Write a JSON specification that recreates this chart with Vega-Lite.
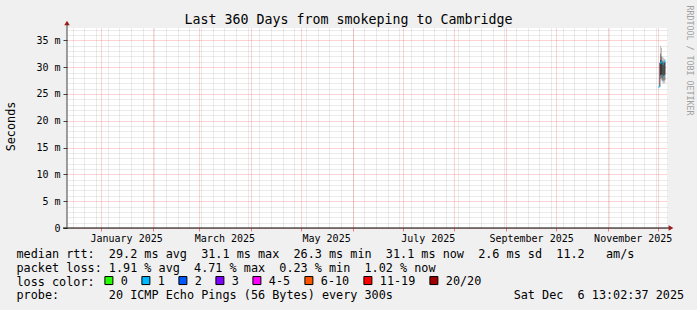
{
  "$schema": "https://vega.github.io/schema/vega-lite/v6.json",
  "width": 600,
  "height": 200,
  "autosize": {"type": "none"},
  "padding": {"left": 67, "top": 28, "right": 30, "bottom": 82},
  "background": "#f0f0f0",
  "title": {
    "text": "Last 360 Days from smokeping to Cambridge",
    "font": "DejaVu Sans Mono",
    "fontSize": 13.3,
    "fontWeight": "normal",
    "color": "black",
    "anchor": "middle",
    "frame": "group",
    "dx": -18.5,
    "dy": 36,
    "baseline": "alphabetic",
    "offset": 4
  },
  "datasets": {
    "smoke": [
      {"t": "2025-12-02T00:00:00", "t2": "2025-12-02T12:00:00", "lo": 26.4, "hi": 30.8, "band": "inner"},
      {"t": "2025-12-02T12:00:00", "t2": "2025-12-03T00:00:00", "lo": 27.3, "hi": 34.0, "band": "outer"},
      {"t": "2025-12-02T12:00:00", "t2": "2025-12-03T00:00:00", "lo": 27.8, "hi": 32.5, "band": "mid"},
      {"t": "2025-12-02T12:00:00", "t2": "2025-12-03T00:00:00", "lo": 28.5, "hi": 31.3, "band": "inner"},
      {"t": "2025-12-03T00:00:00", "t2": "2025-12-03T12:00:00", "lo": 27.5, "hi": 33.6, "band": "outer"},
      {"t": "2025-12-03T00:00:00", "t2": "2025-12-03T12:00:00", "lo": 28.0, "hi": 32.0, "band": "mid"},
      {"t": "2025-12-03T00:00:00", "t2": "2025-12-03T12:00:00", "lo": 28.6, "hi": 31.2, "band": "inner"},
      {"t": "2025-12-03T12:00:00", "t2": "2025-12-04T00:00:00", "lo": 27.2, "hi": 32.0, "band": "outer"},
      {"t": "2025-12-03T12:00:00", "t2": "2025-12-04T00:00:00", "lo": 27.6, "hi": 31.2, "band": "mid"},
      {"t": "2025-12-03T12:00:00", "t2": "2025-12-04T00:00:00", "lo": 28.0, "hi": 30.8, "band": "inner"},
      {"t": "2025-12-04T00:00:00", "t2": "2025-12-04T12:00:00", "lo": 27.0, "hi": 31.8, "band": "outer"},
      {"t": "2025-12-04T00:00:00", "t2": "2025-12-04T12:00:00", "lo": 27.5, "hi": 31.0, "band": "mid"},
      {"t": "2025-12-04T00:00:00", "t2": "2025-12-04T12:00:00", "lo": 28.3, "hi": 30.8, "band": "inner"},
      {"t": "2025-12-04T12:00:00", "t2": "2025-12-05T00:00:00", "lo": 26.9, "hi": 31.6, "band": "outer"},
      {"t": "2025-12-04T12:00:00", "t2": "2025-12-05T00:00:00", "lo": 27.4, "hi": 31.0, "band": "mid"},
      {"t": "2025-12-04T12:00:00", "t2": "2025-12-05T00:00:00", "lo": 28.4, "hi": 30.8, "band": "inner"},
      {"t": "2025-12-05T00:00:00", "t2": "2025-12-05T12:00:00", "lo": 27.1, "hi": 31.5, "band": "outer"},
      {"t": "2025-12-05T00:00:00", "t2": "2025-12-05T12:00:00", "lo": 27.6, "hi": 31.0, "band": "mid"},
      {"t": "2025-12-05T00:00:00", "t2": "2025-12-05T12:00:00", "lo": 28.6, "hi": 30.9, "band": "inner"}
    ],
    "median": [
      {"t": "2025-12-01T12:00:00", "t2": "2025-12-02T00:00:00", "rtt": 26.3, "loss": "1"},
      {"t": "2025-12-02T00:00:00", "t2": "2025-12-02T12:00:00", "rtt": 26.5, "loss": "1"},
      {"t": "2025-12-02T12:00:00", "t2": "2025-12-03T00:00:00", "rtt": 30.8, "loss": "1"},
      {"t": "2025-12-03T00:00:00", "t2": "2025-12-03T12:00:00", "rtt": 30.9, "loss": "1"},
      {"t": "2025-12-03T12:00:00", "t2": "2025-12-04T00:00:00", "rtt": 28.4, "loss": "1"},
      {"t": "2025-12-04T00:00:00", "t2": "2025-12-04T12:00:00", "rtt": 30.6, "loss": "1"},
      {"t": "2025-12-04T12:00:00", "t2": "2025-12-05T00:00:00", "rtt": 31.0, "loss": "1"},
      {"t": "2025-12-05T00:00:00", "t2": "2025-12-05T12:00:00", "rtt": 31.1, "loss": "1"}
    ]
  },
  "layer": [
    {
      "data": {"name": "smoke"},
      "mark": {"type": "rect"},
      "encoding": {
        "x": {
          "field": "t", "type": "temporal",
          "scale": {"domain": [{"year": 2024, "month": 12, "date": 11, "hours": 13, "minutes": 2, "seconds": 37}, {"year": 2025, "month": 12, "date": 6, "hours": 13, "minutes": 2, "seconds": 37}], "nice": false},
          "axis": {"orient": "bottom", "grid": true, "gridColor": "#8c8c8c", "gridOpacity": 0.35, "gridDash": [1, 1], "tickCount": {"interval": "week", "step": 1}, "labels": false, "ticks": false, "domain": false, "title": null}
        },
        "x2": {"field": "t2"},
        "y": {
          "field": "lo", "type": "quantitative",
          "scale": {"domain": [0, 37.3], "nice": false, "zero": true},
          "axis": {"orient": "right", "grid": true, "gridColor": "#8c8c8c", "gridOpacity": 0.35, "gridDash": [1, 1], "values": [1, 2, 3, 4, 6, 7, 8, 9, 11, 12, 13, 14, 16, 17, 18, 19, 21, 22, 23, 24, 26, 27, 28, 29, 31, 32, 33, 34, 36, 37], "labels": false, "ticks": false, "domain": false,
            "title": "RRDTOOL / TOBI OETIKER", "titleAngle": 90, "titleAlign": "left", "titleBaseline": "middle", "titleX": 21, "titleY": -23, "titleColor": "#a0a0a0", "titleFontSize": 8.3, "titleFontWeight": "normal", "titleFont": "DejaVu Sans Mono"}
        },
        "y2": {"field": "hi"},
        "fill": {"field": "band", "type": "nominal", "scale": {"domain": ["outer", "mid", "inner"], "range": ["#b4b4b4", "#6a6a6a", "#222222"]}, "legend": null}
      }
    },
    {
      "data": {"name": "median"},
      "mark": {"type": "rect", "height": 2},
      "encoding": {
        "x": {
          "field": "t", "type": "temporal",
          "scale": {"domain": [{"year": 2024, "month": 12, "date": 11, "hours": 13, "minutes": 2, "seconds": 37}, {"year": 2025, "month": 12, "date": 6, "hours": 13, "minutes": 2, "seconds": 37}], "nice": false},
          "axis": {
            "orient": "bottom",
            "values": [
              {"year": 2025, "month": 1, "date": 1}, {"year": 2025, "month": 2, "date": 1}, {"year": 2025, "month": 3, "date": 1},
              {"year": 2025, "month": 4, "date": 1}, {"year": 2025, "month": 5, "date": 1}, {"year": 2025, "month": 6, "date": 1},
              {"year": 2025, "month": 7, "date": 1}, {"year": 2025, "month": 8, "date": 1}, {"year": 2025, "month": 9, "date": 1},
              {"year": 2025, "month": 10, "date": 1}, {"year": 2025, "month": 11, "date": 1}, {"year": 2025, "month": 12, "date": 1}
            ],
            "grid": true, "gridColor": "#ff0000", "gridOpacity": 0.35, "gridDash": [1, 1],
            "labelExpr": "month(datum.value) % 2 == 0 ? timeFormat(datum.value, '%B %Y') : ''",
            "labelOffset": 25, "labelFontSize": 10, "labelColor": "black", "labelFont": "DejaVu Sans Mono", "labelPadding": 2, "labelBaseline": "top",
            "labelOverlap": false, "labelFlush": false, "labelBound": false,
            "tickSize": 3, "tickColor": "#ff0000", "tickOpacity": 0.5, "domain": false,
            "title": [
              "median rtt:\u00a0\u00a029.2 ms avg\u00a0\u00a031.1 ms max\u00a0\u00a026.3 ms min\u00a0\u00a031.1 ms now\u00a0\u00a02.6 ms sd\u00a0\u00a011.2\u00a0\u00a0\u00a0am/s",
              "packet loss: 1.91 % avg\u00a0\u00a04.71 % max\u00a0\u00a00.23 % min\u00a0\u00a01.02 % now",
              "loss color:",
              "probe:\u00a0\u00a0\u00a0\u00a0\u00a0\u00a0\u00a020 ICMP Echo Pings (56 Bytes) every 300s\u00a0\u00a0\u00a0\u00a0\u00a0\u00a0\u00a0\u00a0\u00a0\u00a0\u00a0\u00a0\u00a0\u00a0\u00a0\u00a0\u00a0Sat Dec\u00a0\u00a06 13:02:37 2025"
            ],
            "titleX": -51, "titleY": 29.5, "titleAlign": "left", "titleBaseline": "alphabetic", "titleAngle": 0,
            "titleFontSize": 11.8, "titleFontWeight": "normal", "titleColor": "black", "titleLineHeight": 13.8, "titleFont": "DejaVu Sans Mono"
          }
        },
        "x2": {"field": "t2"},
        "y": {
          "field": "rtt", "type": "quantitative",
          "scale": {"domain": [0, 37.3], "nice": false, "zero": true},
          "axis": {
            "orient": "left", "values": [0, 5, 10, 15, 20, 25, 30, 35],
            "grid": true, "gridColor": "#ff0000", "gridOpacity": 0.35, "gridDash": [1, 1],
            "labelExpr": "datum.value == 0 ? '0' : datum.value + ' m'",
            "labelFontSize": 10, "labelColor": "black", "labelFont": "DejaVu Sans Mono", "labelPadding": 3,
            "tickSize": 4, "tickColor": "#404040", "domain": false,
            "title": "Seconds", "titleX": -53, "titleY": 98, "titleAngle": -90, "titleAlign": "center", "titleBaseline": "alphabetic",
            "titleFontSize": 11.8, "titleFontWeight": "normal", "titleColor": "black", "titleFont": "DejaVu Sans Mono"
          }
        },
        "color": {
          "field": "loss", "type": "nominal",
          "scale": {"domain": ["0", "1", "2", "3", "4-5", "6-10", "11-19", "20/20"], "range": ["#26ff00", "#00b8ff", "#0059ff", "#7e00ff", "#ff00ff", "#ff5500", "#ff0000", "#a10000"]},
          "legend": {
            "orient": "none", "legendX": 36, "legendY": 246.5, "direction": "horizontal", "columns": 8,
            "title": null,
            "labelFontSize": 11.8, "labelColor": "black", "labelFont": "DejaVu Sans Mono", "labelOffset": 6, "columnPadding": 11,
            "symbolType": "square", "symbolSize": 64, "symbolStrokeColor": "black", "symbolStrokeWidth": 1, "symbolOpacity": 1, "padding": 0
          }
        }
      }
    },
    {
      "data": {"values": [{}]},
      "mark": {"type": "rule", "color": "black", "strokeWidth": 1, "xOffset": -4, "x2Offset": 4},
      "encoding": {
        "x": {"datum": {"year": 2024, "month": 12, "date": 11, "hours": 13, "minutes": 2, "seconds": 37}, "type": "temporal", "axis": null},
        "x2": {"datum": {"year": 2025, "month": 12, "date": 6, "hours": 13, "minutes": 2, "seconds": 37}},
        "y": {"datum": 0, "type": "quantitative", "axis": null}
      }
    },
    {
      "data": {"values": [{}]},
      "mark": {"type": "rule", "color": "#404040", "strokeWidth": 1, "y2Offset": -4},
      "encoding": {
        "x": {"datum": {"year": 2024, "month": 12, "date": 11, "hours": 13, "minutes": 2, "seconds": 37}, "type": "temporal", "axis": null},
        "y": {"datum": 0, "type": "quantitative", "axis": null},
        "y2": {"datum": 37.3}
      }
    },
    {
      "data": {"values": [{}]},
      "mark": {"type": "point", "shape": "triangle-right", "filled": true, "size": 30, "color": "#9b1b1b", "opacity": 1, "xOffset": 4},
      "encoding": {
        "x": {"datum": {"year": 2025, "month": 12, "date": 6, "hours": 13, "minutes": 2, "seconds": 37}, "type": "temporal", "axis": null},
        "y": {"datum": 0, "type": "quantitative", "axis": null}
      }
    },
    {
      "data": {"values": [{}]},
      "mark": {"type": "point", "shape": "triangle-up", "filled": true, "size": 30, "color": "#9b1b1b", "opacity": 1, "yOffset": -5},
      "encoding": {
        "x": {"datum": {"year": 2024, "month": 12, "date": 11, "hours": 13, "minutes": 2, "seconds": 37}, "type": "temporal", "axis": null},
        "y": {"datum": 37.3, "type": "quantitative", "axis": null}
      }
    }
  ],
  "resolve": {"axis": {"x": "independent", "y": "independent"}},
  "config": {"font": "DejaVu Sans Mono", "view": {"fill": "white", "stroke": null}}
}
